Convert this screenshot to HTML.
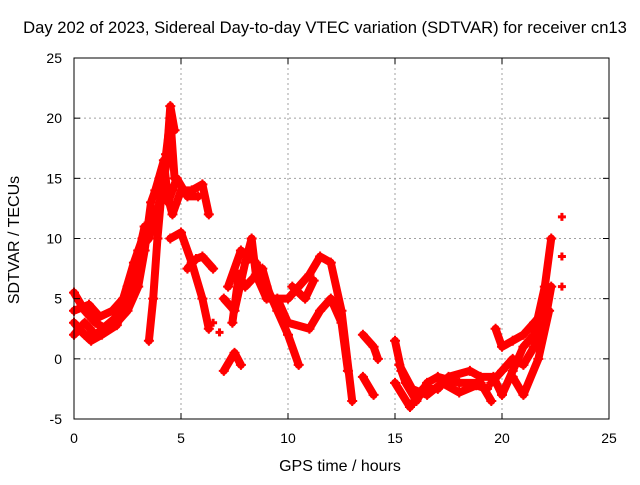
<!DOCTYPE html>
<html><head><meta charset="utf-8"><style>
body{margin:0;background:#fff;}
svg text{font-family:"Liberation Sans",sans-serif;font-size:14px;fill:#000;}
svg text.big{font-size:16px;}
</style></head><body>
<svg id="chart" width="640" height="480" viewBox="0 0 640 480" xmlns="http://www.w3.org/2000/svg">
<text class="big" x="325" y="33" text-anchor="middle" style="font-size:16.6px">Day 202 of 2023, Sidereal Day-to-day VTEC variation (SDTVAR) for receiver cn13</text>
<g id="grid"></g>
<g id="series"></g>
<rect x="74" y="58" width="535" height="361" fill="none" stroke="#000" stroke-width="1"/>
<g id="ticks"></g>
<text class="big" x="340" y="471" text-anchor="middle">GPS time / hours</text>
<text class="big" x="19" y="240" text-anchor="middle" transform="rotate(-90 19 240)">SDTVAR / TECUs</text>
</svg>
<script>
const xTicks=[0,5,10,15,20,25];
const yTicks=[-5,0,5,10,15,20,25];
const tracks=[
[[0,5.5],[0.5,4],[1,3],[1.5,2.5],[2,3.5],[2.5,6],[3,9],[3.5,10],[4,13],[4.3,16],[4.5,21],[4.7,19]],
[[0,3],[0.5,2],[1,1.8],[1.5,2.5],[2,3],[2.5,4],[3,6],[3.3,9],[3.6,13],[4,15],[4.3,14],[4.6,12],[5,14],[5.5,14],[6,14.5],[6.3,12]],
[[0,2],[0.5,3],[1,2],[2,3.5],[2.8,7],[3.3,11]],
[[0,4],[0.7,4.5],[1.2,3.5],[1.8,4],[2.3,5],[2.8,8],[3.2,10],[3.6,11]],
[[0.2,2.5],[0.8,1.5],[1.3,2],[2,2.8],[2.6,5.5],[3.1,8]],
[[3.5,1.5],[3.7,5],[3.9,10],[4.1,14],[4.3,17],[4.5,20],[4.7,15]],
[[3.8,14],[4.2,16.5],[4.4,13],[4.8,15],[5.3,13.5],[5.8,13.5]],
[[4.5,10],[5,10.5],[5.5,8],[6,5],[6.3,2.5]],
[[5.3,7.5],[5.7,8.3],[6,8.5],[6.5,7.5]],
[[7,-1],[7.5,0.5],[7.8,-0.5]],
[[7,5],[7.5,4],[8,8],[8.3,10],[8.5,7]],
[[7.2,6],[7.8,9],[8.5,8],[9,6],[9.5,4],[10,2],[10.5,-0.5]],
[[7.4,3],[7.7,7],[8,6],[8.8,7.5],[9.2,5]],
[[8.5,7],[9,5],[10,5],[11,7],[11.5,8.5],[12,8],[12.5,4],[13,-3.5]],
[[9.5,5],[10,3],[11,2.5],[11.5,4],[12,5],[12.5,3],[12.8,-1]],
[[10.2,6],[10.8,5],[11.2,6.5]],
[[13.5,2],[14,1],[14.2,0]],
[[13.5,-1.5],[14,-3]],
[[15,1.5],[15.3,-1],[15.5,-2],[16,-3.5],[16.5,-2],[17,-1.5],[18,-2],[19,-2],[19.5,-3.5]],
[[15,-2],[15.7,-4],[16.3,-2.5],[17,-2.5],[17.5,-1.5],[18.5,-1],[19,-1.5],[19.6,-1.5],[20,-3],[20.5,-1],[21,1],[21.5,2],[22,6],[22.3,10]],
[[15.2,-0.5],[15.8,-2.5],[16.5,-3],[17.2,-2],[18,-2.8],[18.8,-2.2],[19.3,-2.5]],
[[19.5,-2],[20,-1],[20.5,0],[21,-0.5],[21.5,1],[22,3],[22.3,6]],
[[19.7,2.5],[20,1],[20.5,1.5],[21,2],[21.5,3],[22,4]],
[[20.5,-1.5],[21,-3],[21.7,0],[22.2,4]]
];
const spots=[[22.8,11.8],[22.8,8.5],[22.8,6],[6.8,2.2],[6.5,3]];
const NS='http://www.w3.org/2000/svg';
const X=t=>74+t*(535/25);
const Y=v=>419-(v+5)*(361/30);
function mk(tag,a,p){const e=document.createElementNS(NS,tag);for(const k in a)e.setAttribute(k,a[k]);p.appendChild(e);return e;}
const grid=document.getElementById('grid'),ticks=document.getElementById('ticks'),ser=document.getElementById('series');
xTicks.forEach(t=>{
 if(t>0&&t<25){const g=mk('line',{x1:X(t),x2:X(t),y1:58,y2:419,stroke:'#a0a0a0','stroke-dasharray':'2,3'},grid);
 }
 mk('line',{x1:X(t),x2:X(t),y1:419,y2:413,stroke:'#000'},ticks);
 mk('line',{x1:X(t),x2:X(t),y1:58,y2:64,stroke:'#000'},ticks);
 const l=mk('text',{x:X(t),y:443,'text-anchor':'middle'},ticks);l.textContent=t;
 
});
yTicks.forEach(v=>{
 if(v>-5&&v<25){const g=mk('line',{x1:74,x2:609,y1:Y(v),y2:Y(v),stroke:'#a0a0a0','stroke-dasharray':'2,3'},grid);
 }
 mk('line',{x1:74,x2:80,y1:Y(v),y2:Y(v),stroke:'#000'},ticks);
 mk('line',{x1:603,x2:609,y1:Y(v),y2:Y(v),stroke:'#000'},ticks);
 const l=mk('text',{x:62,y:Y(v)+5,'text-anchor':'end'},ticks);l.textContent=v;
 
});
tracks.forEach(tr=>{
 const p=mk('polyline',{points:tr.map(d=>X(d[0])+','+Y(d[1])).join(' '),fill:'none',stroke:'#ff0000','stroke-width':8,'stroke-linejoin':'round','stroke-linecap':'round'},ser);
 
 tr.forEach(d=>{
  const m=mk('path',{d:`M${X(d[0])-5},${Y(d[1])}h10M${X(d[0])},${Y(d[1])-5}v10`,stroke:'#ff0000','stroke-width':2},ser);
  
 });
});
spots.forEach(d=>{
 const m=mk('path',{d:`M${X(d[0])-4},${Y(d[1])}h8M${X(d[0])},${Y(d[1])-4}v8`,stroke:'#ff0000','stroke-width':3},ser);
 
});
</script>
</body></html>
